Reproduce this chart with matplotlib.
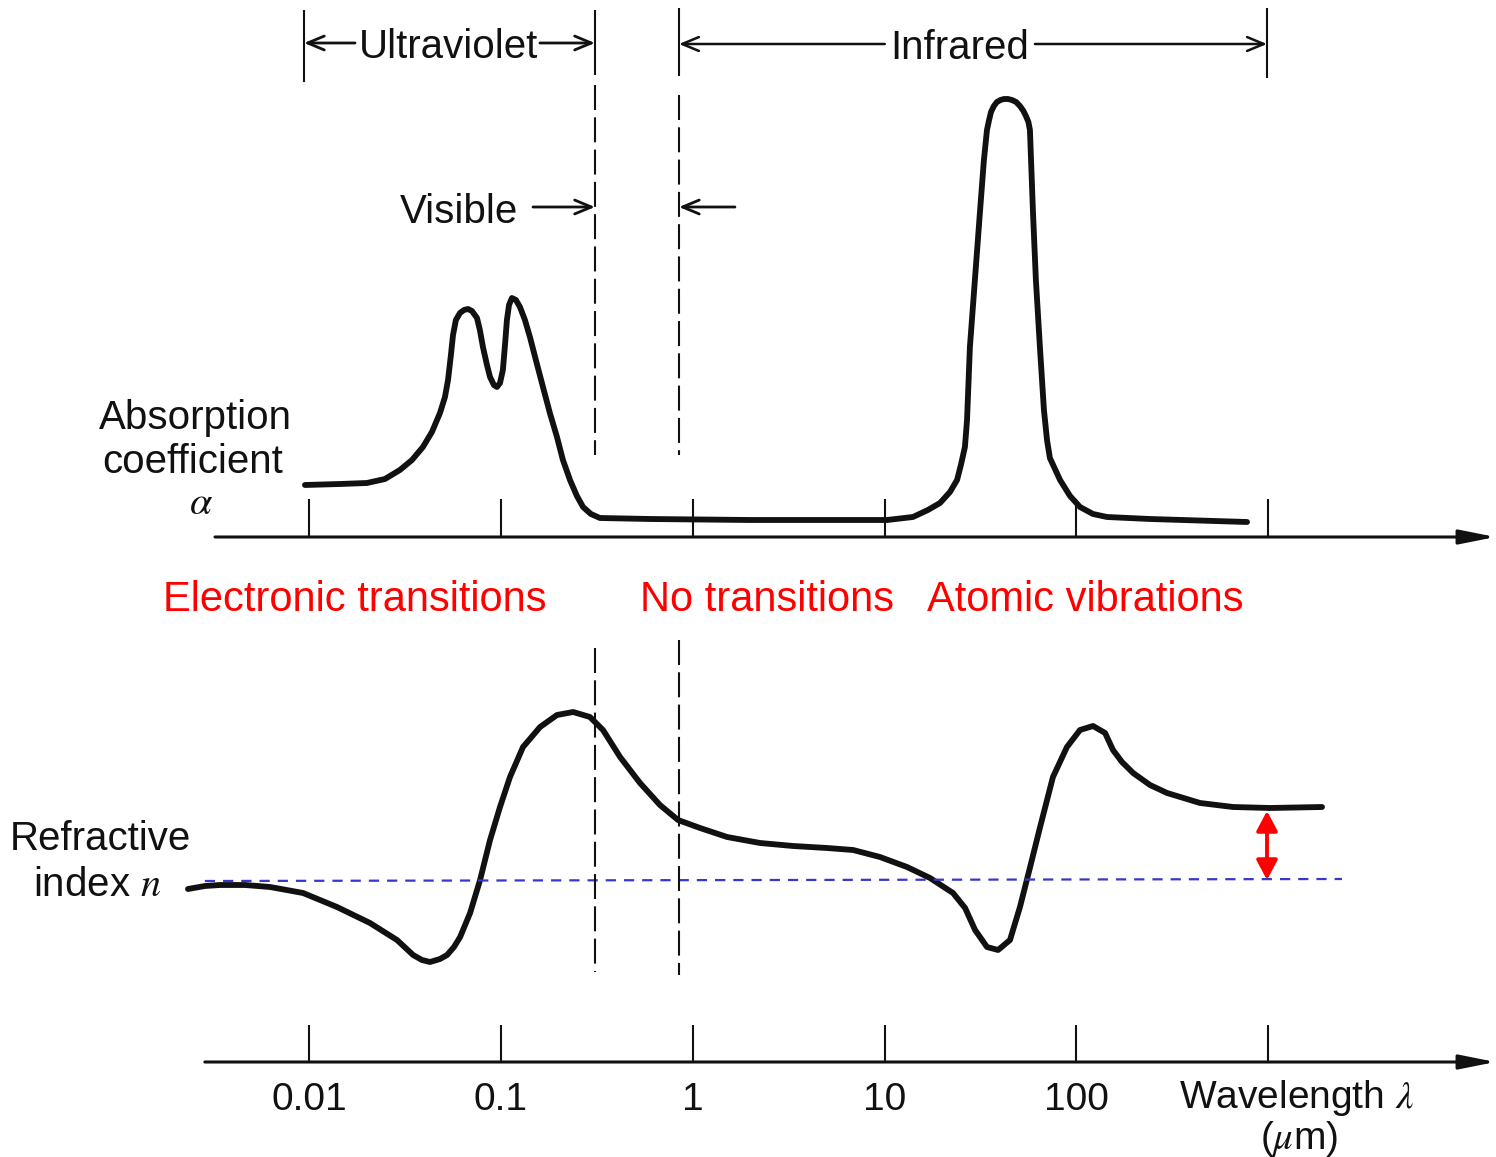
import matplotlib
matplotlib.use("Agg")
import matplotlib.pyplot as plt

plt.rcParams['font.family'] = ['Liberation Sans', 'DejaVu Sans']
plt.rcParams['mathtext.fontset'] = 'stix'

################################################
# Data (x = log10 of wavelength in um, y = picture height units, down is larger)
################################################
decades = [-2, -1, 0, 1, 2, 3]
tick_labels = ["0.01", "0.1", "1", "10", "100"]

# absorption coefficient alpha
abs_logl = [-2.022, -1.839, -1.699, -1.605, -1.527, -1.464, -1.407, -1.360, -1.318,
            -1.292, -1.276, -1.261, -1.250, -1.235, -1.214, -1.193, -1.172, -1.151,
            -1.125, -1.110, -1.094, -1.073, -1.057, -1.037, -1.021, -1.005, -0.990,
            -0.979, -0.969, -0.958, -0.943, -0.922, -0.901, -0.875, -0.849, -0.818,
            -0.781, -0.745, -0.708, -0.677, -0.640, -0.604, -0.572, -0.531, -0.484,
            -0.223, 0.298, 1.013, 1.148, 1.226, 1.289, 1.341, 1.378, 1.398, 1.419,
            1.430, 1.445, 1.471, 1.497, 1.518, 1.534, 1.545, 1.555, 1.570, 1.586,
            1.604, 1.623, 1.644, 1.664, 1.686, 1.706, 1.724, 1.737, 1.750, 1.758,
            1.774, 1.789, 1.810, 1.831, 1.847, 1.862, 1.915,
            1.967, 2.019, 2.087, 2.160, 2.384, 2.890]
abs_y = [485, 484, 483, 479, 470, 460, 447, 432, 413,
         397, 380, 355, 335, 320, 313, 310, 309, 311,
         318, 330, 347, 365, 377, 385, 387, 383, 370,
         345, 320, 305, 298, 300, 307, 320, 337, 360,
         387, 413, 437, 460, 480, 496, 507, 514, 518,
         519, 520, 520, 517, 510, 503, 492, 480, 465, 447,
         420, 347, 280, 213, 160, 130, 120, 112, 106, 102,
         100, 99, 99, 100, 102, 106, 111, 116, 122, 130,
         213, 280, 347, 410, 440, 458, 480,
         496, 507, 514, 517, 519, 522]

# refractive index n
n_logl = [-2.632, -2.543, -2.465, -2.334, -2.204, -2.032, -1.855, -1.683, -1.542,
          -1.458, -1.412, -1.370, -1.318, -1.281, -1.245, -1.213, -1.161, -1.109,
          -1.057, -1.005, -0.953, -0.885, -0.796, -0.708, -0.624, -0.536, -0.468,
          -0.379, -0.275, -0.171, -0.077, 0.038, 0.179, 0.351, 0.523, 0.700, 0.836,
          0.976, 1.117, 1.237, 1.357, 1.420, 1.472, 1.534, 1.592, 1.654, 1.706,
          1.759, 1.811, 1.878, 1.951, 2.019, 2.087, 2.150, 2.191, 2.238, 2.296,
          2.384, 2.473, 2.645, 2.817, 3.010, 3.281]
n_y = [889, 886, 885, 885, 887, 893, 907, 923, 940,
       955, 960, 962, 959, 955, 947, 937, 913, 880,
       840, 807, 777, 747, 727, 715, 712, 717, 730,
       757, 783, 805, 820, 828, 837, 843, 846, 848, 850,
       857, 867, 878, 893, 908, 930, 947, 950, 940, 907,
       867, 827, 777, 747, 730, 726, 733, 750, 762, 773,
       785, 793, 803, 807, 808, 807]
n_ref = 880          # level of the reference (blue) line
n_ref_span = [-2.544, 3.385]

# band edges (log10 um)
uv_lo, vis_lo, vis_hi, ir_hi = -2.027, -0.510, -0.072, 2.994

################################################
# Plot
################################################
fig = plt.figure(figsize=(14.96, 11.57), dpi=100)
ax = fig.add_axes([0, 0, 1, 1])
ax.set_xlim(-3.612, 4.188)
ax.set_ylim(1157, 0)
ax.axis('off')

ink = '#111111'

def arrow(x0, y0, x1, y1, style, lw, clr=ink, ms=20):
    ax.annotate('', xy=(x1, y1), xytext=(x0, y0),
                arrowprops=dict(arrowstyle=style, lw=lw, color=clr, mutation_scale=ms,
                                shrinkA=0, shrinkB=0))

# curves
ax.plot(abs_logl, abs_y, color=ink, lw=4.2, solid_capstyle='round', solid_joinstyle='round')
ax.plot(n_logl, n_y, color=ink, lw=4.2, solid_capstyle='round', solid_joinstyle='round')

# reference line for n and the red offset arrow
ax.plot(n_ref_span, [n_ref + 1, n_ref - 1], color='#3636d0', lw=1.6, dashes=(4.6, 3.6))
arrow(ir_hi, n_ref, ir_hi, 811, '<|-|>,head_length=0.6,head_width=0.32', 2.8, clr='red')

# wavelength axes
for y0, x0, tlen in [(537, -2.491, 38), (1062, -2.544, 37)]:
    arrow(x0, y0, 4.185, y0, '-|>,head_length=1.1,head_width=0.22', 2.2)
    ax.vlines(decades, y0 - tlen, y0, color=ink, lw=1.5)

for d, lab in zip(decades, tick_labels):
    ax.text(d, 1110, lab, ha='center', va='baseline', fontsize=28, color=ink)
ax.text(3.15, 1108, r'Wavelength $\lambda$', ha='center', va='baseline', fontsize=28, color=ink)
ax.text(3.16, 1149, r'($\mu$m)', ha='center', va='baseline', fontsize=28, color=ink)

# visible band dashed lines
dash = (0, (12, 3.5))
ax.vlines([vis_lo, vis_hi], [85, 95], [455, 455], color=ink, lw=1.5, linestyles=[dash])
ax.vlines([vis_lo, vis_hi], [648, 640], [972, 975], color=ink, lw=1.5, linestyles=[dash])

# region brackets at the top
ax.vlines([uv_lo, vis_lo, vis_hi, ir_hi], [10, 10, 8, 8], [82, 75, 76, 78], color=ink, lw=1.5)
bstyle = '->,head_length=0.6,head_width=0.25'
arrow(-1.761, 43, uv_lo, 43, bstyle, 2.0)
arrow(-0.797, 43, vis_lo, 43, bstyle, 2.0)
arrow(1.001, 44, vis_hi, 44, bstyle, 1.8)
arrow(1.784, 44, ir_hi, 44, bstyle, 1.8)
ax.text(-1.276, 58, 'Ultraviolet', ha='center', va='baseline', fontsize=29, color=ink)
ax.text(1.393, 59, 'Infrared', ha='center', va='baseline', fontsize=29, color=ink)

arrow(-0.833, 207, vis_lo, 207, bstyle, 2.0)
arrow(0.220, 207, vis_hi, 207, bstyle, 2.0)
ax.text(-0.911, 223, 'Visible', ha='right', va='baseline', fontsize=29, color=ink)

# axis captions
ax.text(-2.595, 429, 'Absorption', ha='center', va='baseline', fontsize=29, color=ink)
ax.text(-2.61, 473, 'coefficient', ha='center', va='baseline', fontsize=29, color=ink)
ax.text(-2.564, 514, r'$\alpha$', ha='center', va='baseline', fontsize=29, color=ink)
ax.text(-3.56, 850, 'Refractive', ha='left', va='baseline', fontsize=29, color=ink)
ax.text(-3.44, 896, r'index $n$', ha='left', va='baseline', fontsize=29, color=ink)

# red annotations
ax.text(-2.762, 611, 'Electronic transitions', ha='left', va='baseline', fontsize=30, color='red')
ax.text(-0.275, 611, 'No transitions', ha='left', va='baseline', fontsize=30, color='red')
ax.text(1.221, 611, 'Atomic vibrations', ha='left', va='baseline', fontsize=30, color='red')

plt.savefig('out.png', dpi=100)
